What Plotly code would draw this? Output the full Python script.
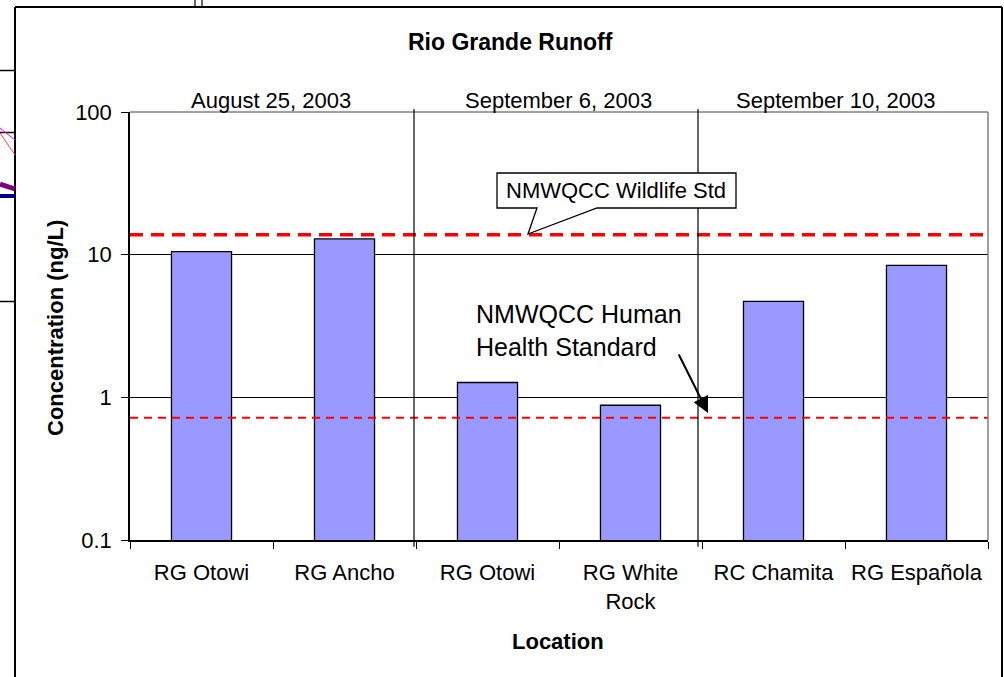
import plotly.graph_objects as go

# data
locations = ["RG Otowi", "RG Ancho", "RG Otowi", "RG White<br>Rock", "RC Chamita", "RG Española"]
concentration = [10.5, 12.9, 1.27, 0.88, 4.7, 8.4]
sample_dates = ["August 25, 2003", "September 6, 2003", "September 10, 2003"]
wildlife_std = 13.8
human_health_std = 0.72
y_ticks = [0.1, 1, 10, 100]
y_tick_text = ["0.1", "1", "10", "100"]

W, H = 1004, 677
L, R, T, B = 130, 988, 112, 540
FONT = "Liberation Sans, Arial, sans-serif"


def px(x):
    return (x - L) / (R - L)


def py(y):
    return (B - y) / (B - T)


def label(text, x, y, size=22, **kw):
    opts = dict(xanchor="center", yanchor="middle")
    opts.update(kw)
    fig.add_annotation(text=text, xref="paper", yref="paper", x=px(x), y=py(y),
                       showarrow=False, font=dict(size=size, color="black", family=FONT),
                       **opts)


xs = list(range(len(locations)))

fig = go.Figure()
fig.add_trace(go.Bar(
    x=xs, y=concentration, width=0.42,
    marker=dict(color="#9999FF", line=dict(color="black", width=1.3)),
    showlegend=False,
))

# standards
fig.add_hline(y=wildlife_std, line=dict(color="#FF0000", width=3.5, dash="13px,8px"), layer="above")
fig.add_hline(y=human_health_std, line=dict(color="#FF0000", width=2, dash="8px,6px"), layer="above")

# plot frame top/right in grey
fig.add_shape(type="line", xref="paper", yref="paper", x0=0, x1=1, y0=1, y1=1,
              line=dict(color="#808080", width=1.5), layer="above")
fig.add_shape(type="line", xref="paper", yref="paper", x0=1, x1=1, y0=0, y1=1,
              line=dict(color="#808080", width=1.5), layer="above")

# date separators
for sx in [414, 698]:
    fig.add_shape(type="line", xref="paper", yref="paper", x0=px(sx), x1=px(sx),
                  y0=-0.016, y1=py(109), line=dict(color="black", width=1.2), layer="above")

# date headers
for d, cx in zip(sample_dates, [271, 558, 835]):
    label(d, cx, 100)

# wildlife callout box with tail
path = "M {} {} L {} {} L {} {} L {} {} L {} {} L {} {} L {} {} Z".format(
    px(497), py(173), px(736), py(173), px(736), py(208), px(597), py(208),
    px(528), py(234), px(537), py(208), px(497), py(208))
fig.add_shape(type="path", path=path, xref="paper", yref="paper",
              fillcolor="white", line=dict(color="black", width=1.3), layer="above")
label("NMWQCC Wildlife Std", 616, 190)

# human health label + arrow
label("NMWQCC Human<br>Health Standard", 474, 330, size=25,
      xanchor="left", align="left")
fig.add_annotation(text="", xref="paper", yref="paper", x=px(708), y=py(413),
                   axref="pixel", ayref="pixel", ax=-30, ay=-60,
                   showarrow=True, arrowhead=2, arrowsize=1.6, arrowwidth=2, arrowcolor="black")

# titles
label("<b>Rio Grande Runoff</b>", 510, 42, size=23)
label("<b>Location</b>", 558, 641, size=22)
label("<b>Concentration (ng/L)</b>", 55, 328, size=22, textangle=-90)

# outer chart frame and bits of the window behind it
def seg(x0, y0, x1, y1, color="black", width=2):
    fig.add_shape(type="line", xref="paper", yref="paper",
                  x0=px(x0), y0=py(y0), x1=px(x1), y1=py(y1),
                  line=dict(color=color, width=width), layer="above")

seg(15, 7, 1002, 7)
seg(15, 7, 15, 690)
seg(1002, 7, 1002, 690)
seg(0, 70.5, 15, 70.5, width=1.5)
seg(0, 132.5, 15, 132.5, width=1.5)
seg(0, 301.5, 15, 301.5, width=1.5)
seg(0, 128, 15, 140, color="#FF00FF", width=1)
seg(0, 133, 15, 155, color="#FF4040", width=1)
seg(0, 184, 15, 189, color="#800080", width=5)
seg(0, 196, 15, 196, color="#000080", width=4)
seg(195, 0, 195, 7, width=1.2)
seg(202, 0, 202, 7, width=1.2)

fig.update_xaxes(
    range=[-0.5, len(locations) - 0.5],
    tickvals=xs, ticktext=locations, ticks="", showgrid=False, zeroline=False,
    showline=True, linecolor="black", linewidth=1.5,
    tickfont=dict(size=22, color="black", family=FONT),
    minor=dict(tickvals=[i - 0.5 for i in range(len(locations) + 1)],
               ticks="outside", ticklen=7, tickcolor="black", showgrid=False),
    ticklabelstandoff=12,
)
fig.update_yaxes(
    type="log", range=[-1, 2], tickvals=y_ticks, ticktext=y_tick_text,
    ticks="outside", ticklen=7, tickcolor="black",
    showgrid=True, gridcolor="black", gridwidth=1.2, zeroline=False,
    showline=True, linecolor="black", linewidth=1.5,
    tickfont=dict(size=22, color="black", family=FONT),
    ticklabelstandoff=5,
)
fig.update_layout(
    width=W, height=H,
    margin=dict(l=L, r=W - R, t=T, b=H - B),
    plot_bgcolor="white", paper_bgcolor="white",
    font=dict(family=FONT, color="black"),
    bargap=0.58,
)

fig.write_html("out.html", config={"displayModeBar": False},
               post_script="document.body.style.margin='0';")
